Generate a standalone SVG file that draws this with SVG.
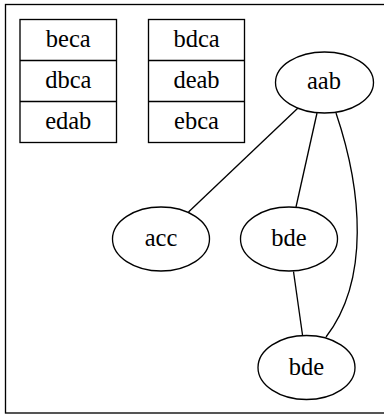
<svg xmlns="http://www.w3.org/2000/svg" width="384" height="415" viewBox="0 0 384 415">
<style>
  .b{fill:none;stroke:#000;stroke-width:1.33}
  .n{fill:#fff;stroke:#000;stroke-width:1.33}
  .e{fill:none;stroke:#000;stroke-width:1.33}
  .t{font-family:"Liberation Serif","Times New Roman",serif;font-size:24.5px;text-anchor:middle;fill:#000}
</style>
<rect width="384" height="415" fill="#fff"/>
<rect class="b" x="5.5" y="4.5" width="400" height="408.5"/>
<g id="edges">
  <path class="e" d="M298,108 L188.5,212"/>
  <path class="e" d="M317,113 L296,207"/>
  <path class="e" d="M293.5,271.5 L302.5,335"/>
  <path class="e" d="M336,113 C362,190 370,280 326,337"/>
</g>
<g id="rec1">
  <rect class="n" x="20" y="19.5" width="96.5" height="123"/>
  <line class="b" x1="20" y1="60.5" x2="116.5" y2="60.5"/>
  <line class="b" x1="20" y1="101.5" x2="116.5" y2="101.5"/>
  <text class="t" x="68.25" y="47">beca</text>
  <text class="t" x="68.25" y="88">dbca</text>
  <text class="t" x="68.25" y="129">edab</text>
</g>
<g id="rec2">
  <rect class="n" x="148.5" y="19.5" width="96" height="123"/>
  <line class="b" x1="148.5" y1="60.5" x2="244.5" y2="60.5"/>
  <line class="b" x1="148.5" y1="101.5" x2="244.5" y2="101.5"/>
  <text class="t" x="196.5" y="47">bdca</text>
  <text class="t" x="196.5" y="88">deab</text>
  <text class="t" x="196.5" y="129">ebca</text>
</g>
<g id="aab">
  <ellipse class="n" cx="324.5" cy="82.5" rx="49" ry="30.5"/>
  <text class="t" x="324" y="89">aab</text>
</g>
<g id="acc">
  <ellipse class="n" cx="161" cy="239" rx="48.5" ry="32"/>
  <text class="t" x="161" y="246">acc</text>
</g>
<g id="bde1">
  <ellipse class="n" cx="289" cy="239" rx="48.5" ry="32"/>
  <text class="t" x="289" y="246">bde</text>
</g>
<g id="bde2">
  <ellipse class="n" cx="306.5" cy="367.5" rx="48.5" ry="32"/>
  <text class="t" x="306.5" y="374.5">bde</text>
</g>
</svg>
